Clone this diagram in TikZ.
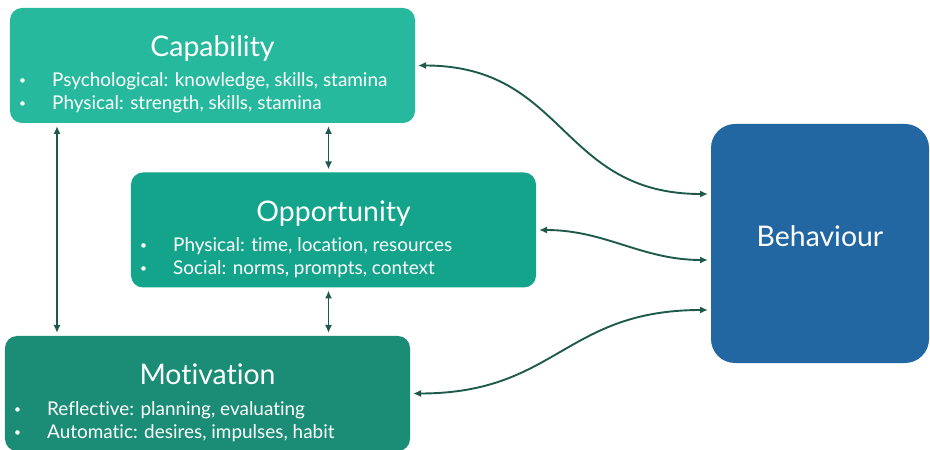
\documentclass[tikz,border=0pt]{standalone}
\usepackage{fontspec}
\setmainfont{Lato}[Ligatures=NoCommon]
\usetikzlibrary{positioning,arrows.meta}
\definecolor{capcol}{HTML}{26B99D}
\definecolor{oppcol}{HTML}{14A38B}
\definecolor{motcol}{HTML}{1B8C75}
\definecolor{behcol}{HTML}{2266A2}
\definecolor{arrcol}{HTML}{1E5A4B}
\tikzset{
  box/.style={draw=none,rounded corners=12bp,minimum width=405bp,minimum height=115bp,outer sep=0pt,inner sep=0pt},
  head/.style={text=white,font=\fontsize{28.5}{32}\selectfont,inner sep=0pt},
  item/.style={text=white,font=\fontsize{19}{22}\selectfont,anchor=base west,inner sep=0pt},
  dot/.style={text=white,font=\fontsize{12}{14}\selectfont,anchor=base west,inner sep=0pt},
  link/.style={{Latex[length=8bp,width=7bp]}-{Latex[length=8bp,width=7bp]},draw=arrcol,line width=1.9bp,shorten <=3bp,shorten >=3bp}
}
\begin{document}
\begin{tikzpicture}[x=1bp,y=-1bp]
\useasboundingbox (0,0) rectangle (930,450);
\node at(212.5,65.5)[box,fill=capcol](cap){};
\node at(333.5,230)[box,fill=oppcol](opp){};
\node at(207.5,393.5)[box,fill=motcol](mot){};
\node at(820,243.5)[box,fill=behcol,minimum width=218bp,minimum height=239bp,rounded corners=24bp](beh){};
\foreach \b/\t/\l/\m in {
  cap/Capability/{Psychological: knowledge, skills, stamina}/{Physical: strength, skills, stamina},
  opp/Opportunity/{Physical: time, location, resources}/{Social: norms, prompts, context},
  mot/Motivation/{Reflective: planning, evaluating}/{Automatic: desires, impulses, habit}
}
\node at([yshift=-49bp]\b.north)[head,anchor=base](\b-head){\t}
    node at([xshift=42bp,yshift=-79bp]\b.north west)[item](\b-one){\l}
    node at([xshift=9bp,yshift=-77bp]\b.north west)[dot](\b-dotone){\textbullet}
    node at([xshift=42bp,yshift=-102bp]\b.north west)[item](\b-two){\m}
    node at([xshift=9bp,yshift=-100bp]\b.north west)[dot](\b-dottwo){\textbullet};
\node at([yshift=-3.5bp]beh.center)[head,anchor=base](beh-head){Behaviour};
\coordinate (capleft) at ([xshift=47bp]cap.south west);
\coordinate (opptop) at ([xshift=-5bp]opp.north);
\coordinate (oppbot) at ([xshift=-5bp]opp.south);
\draw[link] (capleft) -- (capleft |- mot.north);
\draw[link] (opptop) -- (opptop |- cap.south);
\draw[link] (oppbot) -- (oppbot |- mot.north);
\draw[link] (cap.east) to[out=0,in=180,looseness=1.2] ([yshift=49.5bp]beh.west);
\draw[link] (opp.east) to[out=0,in=180] ([yshift=-16.5bp]beh.west);
\draw[link] (mot.east) to[out=0,in=180,looseness=1.2] ([yshift=-66.5bp]beh.west);
\end{tikzpicture}
\end{document}
